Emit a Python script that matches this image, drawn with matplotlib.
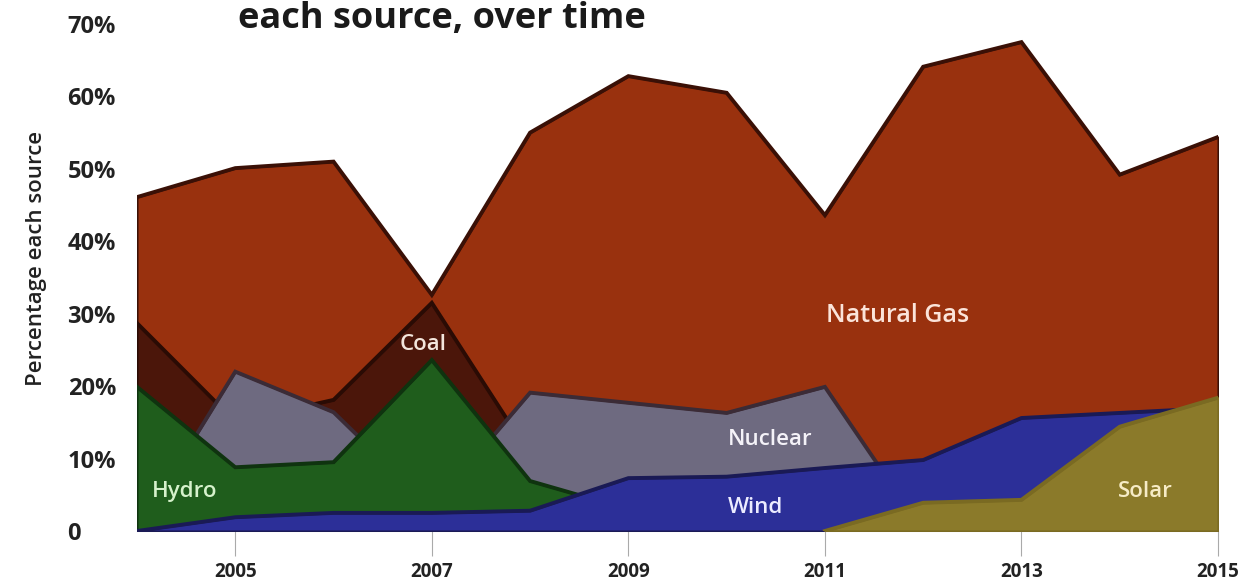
import numpy as np
import matplotlib
matplotlib.use("Agg")
import matplotlib.pyplot as plt

plt.rcParams['font.family'] = ['Open Sans', 'DejaVu Sans']

# Share of electricity by source (%), one value per year; None = not shown
years = [2004, 2005, 2006, 2007, 2008, 2009, 2010, 2011, 2012, 2013, 2014, 2015]
natural_gas = [46.1, 50.1, 51.0, 32.6, 55.0, 62.8, 60.5, 43.6, 64.1, 67.5, 49.2, 54.4]
coal        = [28.7, 15.1, 18.1, 31.5, 10.5, None, None, None, None, None, None, None]
nuclear     = [0.0, 22.0, 16.4, 3.2, 19.1, 17.7, 16.3, 19.9, 0.0, 0.0, 0.0, 0.0]
hydro       = [19.9, 8.8, 9.5, 23.6, 6.9, 3.0, None, None, None, None, None, None]
wind        = [0.0, 1.9, 2.5, 2.5, 2.8, 7.3, 7.5, 8.7, 9.8, 15.6, 16.3, 17.0]
solar       = [None, None, None, None, None, None, None, 0.0, 3.9, 4.3, 14.4, 18.4]

y_ticks = [0, 10, 20, 30, 40, 50, 60, 70]
y_tick_labels = ['0', '10%', '20%', '30%', '40%', '50%', '60%', '70%']
x_ticks = [2005, 2007, 2009, 2011, 2013, 2015]

def arr(v):
    return np.array([np.nan if a is None else a for a in v], dtype=float)

# back-to-front drawing order: (values, fill, outline)
layers = [
    (natural_gas, '#99310e', '#3a1006'),
    (coal,        '#4b160a', '#2a0b04'),
    (nuclear,     '#6e6a80', '#3b2b36'),
    (hydro,       '#1f5d1c', '#0f330f'),
    (wind,        '#2c2f98', '#1a1a55'),
    (solar,       '#8b7a2a', '#7a6a22'),
]

fig = plt.figure(figsize=(12.56, 5.83), dpi=100)
ax = fig.add_axes([137 / 1256, 52 / 583, (1218 - 137) / 1256, (559 - 52) / 583])

x = np.array(years, dtype=float)
for i, (vals, fc, ec) in enumerate(layers):
    y = arr(vals)
    ax.fill_between(x, 0, y, facecolor=fc, edgecolor=ec, linewidth=1.5,
                    zorder=2 + i)
    ax.plot(x, y, color=ec, linewidth=2.8, solid_joinstyle='miter',
            zorder=2 + i + 0.5)

ax.set_xlim(2004, 2015)
ax.set_ylim(0, 70)

ax.set_xticks(x_ticks)
ax.set_xticklabels([str(t) for t in x_ticks], fontsize=13.5, fontweight='bold',
                   color='#222222')
ax.tick_params(axis='x', direction='out', length=18, width=0.8,
               color='#aaaaaa', pad=4)

ax.set_yticks(y_ticks)
ax.set_yticklabels(y_tick_labels, fontsize=17, fontweight='bold',
                   color='#222222')
ax.tick_params(axis='y', length=0, pad=50)
for lbl in ax.get_yticklabels():
    lbl.set_horizontalalignment('left')

for side in ('top', 'right', 'left'):
    ax.spines[side].set_visible(False)
ax.spines['bottom'].set_color('#cccccc')
ax.spines['bottom'].set_linewidth(0.8)

ax.set_ylabel('Percentage each source', fontsize=16, fontweight='semibold',
              color='#222222')
ax.yaxis.set_label_coords(-0.083, 0.538)

# series labels
lab = dict(fontsize=16, fontweight='semibold', zorder=20, va='center')
ax.text(2004.15, 5.4, 'Hydro', color='#d6f2cc', ha='left', **lab)
ax.text(2006.91, 25.7, 'Coal', color='#f3e6dc', ha='center', **lab)
ax.text(2010.01, 12.6, 'Nuclear', color='#f4f2f8', ha='left', **lab)
ax.text(2010.01, 3.2, 'Wind', color='#ececff', ha='left', **lab)
ax.text(2011.01, 29.8, 'Natural Gas', color='#fbe4da', ha='left',
        fontsize=18, fontweight='semibold', zorder=20, va='center')
ax.text(2013.98, 5.4, 'Solar', color='#f6ebc6', ha='left', **lab)

fig.text(238 / 1256, 1 - 1 / 583, 'each source, over time', fontsize=26,
         fontweight='bold', color='#1a1a1a', ha='left', va='top')

fig.savefig('out.png', dpi=100, facecolor='white')
